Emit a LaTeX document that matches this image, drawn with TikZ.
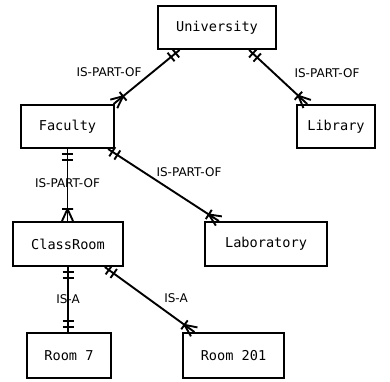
\documentclass[tikz,border=0pt]{standalone}
\usepackage{fontspec}
\usetikzlibrary{decorations.markings}
\newfontfamily\entityfont{DejaVu Sans Mono}
\newfontfamily\relfont{DejaVu Sans}
\begin{document}
\begin{tikzpicture}[x=1pt,y=-1pt,
  entity/.style={draw,line width=2pt,inner sep=0pt,
    font=\entityfont\fontsize{13.6}{16}\selectfont},
  rel/.style={font=\relfont\fontsize{12}{14}\selectfont,inner sep=0pt},
  link/.style={line width=1.9pt},
  bar/.style={line width=1.9pt},
  onestart/.style={postaction={decorate,decoration={markings,
    mark=at position 5pt with {\draw[bar] (0,-5.5pt) -- (0,5.5pt);},
    mark=at position 11pt with {\draw[bar] (0,-5.5pt) -- (0,5.5pt);}}}},
  oneend/.style={postaction={decorate,decoration={markings,
    mark=at position -11pt with {\draw[bar] (0,-5.5pt) -- (0,5.5pt);},
    mark=at position -5pt with {\draw[bar] (0,-5.5pt) -- (0,5.5pt);}}}},
  manyend/.style={postaction={decorate,decoration={markings,
    mark=at position -12pt with {\draw[bar]
      (0,-5.5pt) -- (0,5.5pt) (0,0) -- (12pt,5.5pt) (0,0) -- (12pt,-5.5pt);}}}}
]
\useasboundingbox (0,0) rectangle (390,381);

% entities
\node[entity,minimum width=118pt,minimum height=43pt] (univ) at (217,27.5) {University};
\node[entity,minimum width=78pt,minimum height=43pt] (lib) at (336,126.5) {Library};
\node[entity,minimum width=93pt,minimum height=43pt] (fac) at (67.5,126.5) {Faculty};
\node[entity,minimum width=110pt,minimum height=44pt] (cls) at (68,244) {ClassRoom};
\node[entity,minimum width=122pt,minimum height=44pt] (lab) at (266,244) {Laboratory};
\node[entity,minimum width=84pt,minimum height=45pt] (r7) at (69,355.5) {Room 7};
\node[entity,minimum width=101pt,minimum height=45pt] (r201) at (233.5,355.5) {Room 201};

% relationships
\draw[link,onestart,manyend] (univ.211.6) -- (fac.26.3);
\draw[link,onestart,manyend] (univ.325.3) -- (lib.142.5);
\draw[link,onestart,manyend] (fac.south) -- (fac.south |- cls.north);
\draw[link,onestart,manyend] (fac.331.4) -- (lab.154);
\draw[link,onestart,oneend] (cls.south) -- (cls.south |- r7.north);
\draw[link,onestart,manyend] (cls.328.6) -- (r201.149);

% relationship labels
\node[rel] (l1) at (109,72) {IS-PART-OF};
\node[rel] (l2) at (327,73) {IS-PART-OF};
\node[rel] (l3) at (67.5,183) {IS-PART-OF};
\node[rel] (l4) at (189,172) {IS-PART-OF};
\node[rel] (l5) at (68,299) {IS-A};
\node[rel] (l6) at (176,298) {IS-A};
\end{tikzpicture}
\end{document}
